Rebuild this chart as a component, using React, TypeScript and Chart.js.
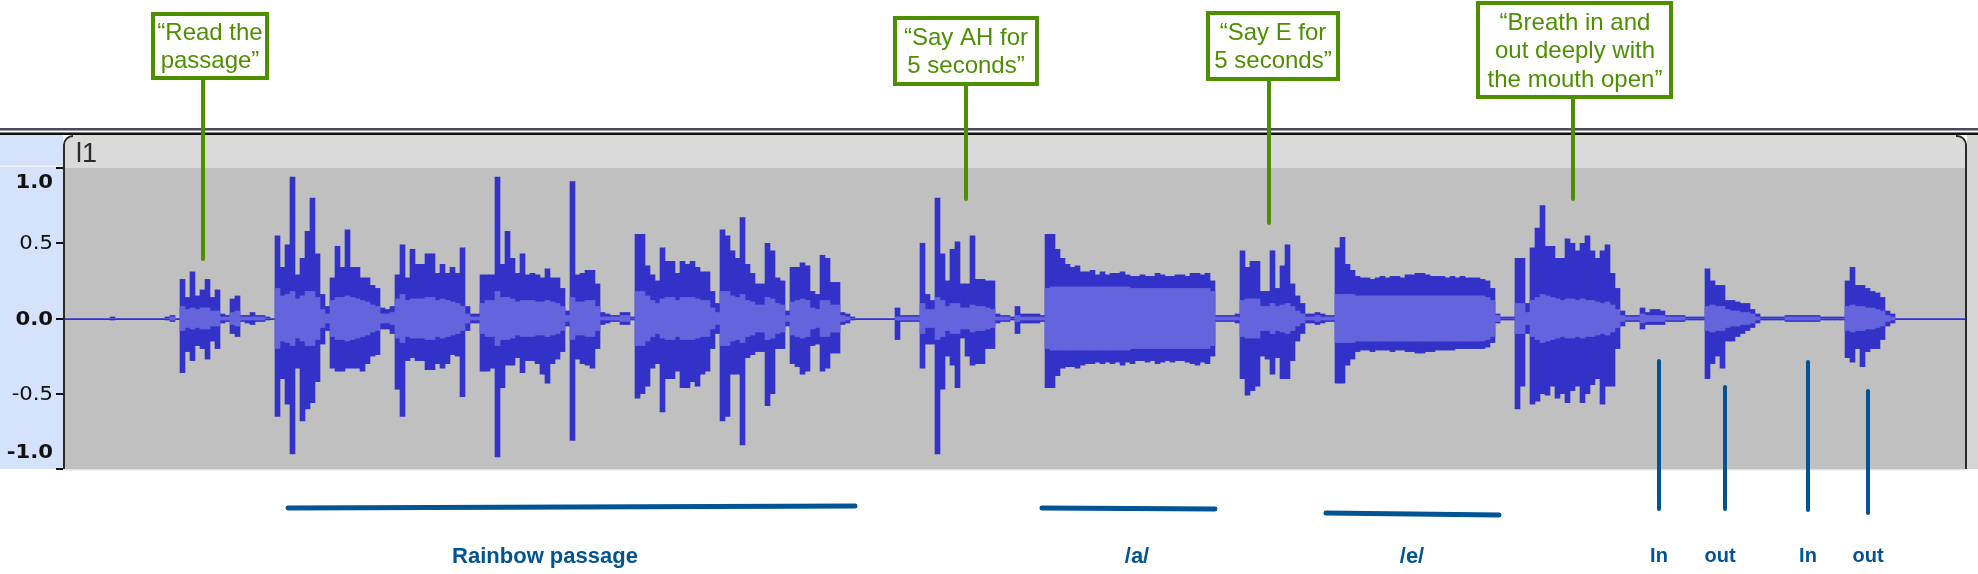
import React, { useEffect, useRef } from "react";
import { Chart, registerables } from "chart.js";

Chart.register(...registerables);

// ---------- DATA (amplitude in percent of full scale, one value per 5-px frame bin) ----------
const peakTop = [
  0,0,0,0,0,0,0,0,0,1,
  0,0,0,0,0,0,0,0,0,0,
  1,2,0,26,14,31,15,19,26,14,
  19,3,2,13,15,2,2,4,2,2,
  1,0,55,34,49,94,29,40,58,80,
  43,16,8,27,48,34,59,34,34,27,
  27,22,20,7,6,8,29,49,27,46,
  36,36,43,43,30,36,30,34,30,47,
  8,3,3,29,29,29,94,36,58,40,
  30,43,29,30,29,27,33,27,27,20,
  5,91,29,30,32,32,23,4,3,2,
  2,4,4,1,56,56,35,29,25,47,
  38,38,30,38,36,38,34,31,31,18,
  10,59,55,45,40,67,36,30,23,23,
  50,45,27,25,5,34,34,37,35,18,
  16,42,40,24,24,4,3,1,0,0,
  0,0,0,0,0,0,7,2,2,2,
  2,50,16,12,80,43,25,46,51,23,
  23,55,26,26,25,25,3,2,2,1,
  8,3,3,3,3,2,56,56,46,40,
  36,34,35,31,31,32,29,31,29,30,
  30,31,29,28,28,29,28,28,30,29,
  28,28,29,29,28,30,30,29,30,25,
  2,2,2,2,3,45,34,38,38,18,
  18,45,20,35,49,23,15,10,3,3,
  4,3,2,2,47,54,36,32,28,27,
  27,26,27,28,27,28,28,27,29,29,
  30,30,29,28,28,28,27,28,27,28,
  27,27,27,26,25,20,3,1,1,1,
  40,40,10,47,60,75,48,48,40,40,
  53,50,45,50,55,45,40,45,49,30,
  20,5,2,2,2,7,4,6,6,5,
  2,2,2,2,1,1,1,1,33,25,
  22,22,12,12,11,10,10,6,3,1,
  1,1,1,1,2,2,2,2,2,2,
  2,1,1,1,1,1,25,34,22,22,
  20,18,17,14,5,3,0,0,0,0,
  0,0,0,0,0,0,0,0,0,0,
];

const peakBottom = [
  0,0,0,0,0,0,0,0,0,-1,
  0,0,0,0,0,0,0,0,0,0,
  -1,-2,0,-36,-22,-28,-18,-20,-27,-15,
  -20,-3,-2,-10,-12,-2,-3,-4,-2,-2,
  -1,0,-65,-40,-57,-90,-33,-68,-60,-56,
  -42,-17,-8,-33,-35,-35,-33,-33,-33,-35,
  -30,-25,-24,-7,-7,-10,-47,-65,-28,-26,
  -28,-28,-34,-34,-30,-33,-30,-24,-25,-52,
  -8,-3,-3,-35,-35,-33,-92,-46,-31,-31,
  -26,-36,-28,-28,-30,-37,-43,-30,-27,-22,
  -5,-81,-27,-30,-31,-33,-20,-4,-3,-2,
  -2,-4,-4,-1,-53,-50,-45,-33,-30,-62,
  -40,-40,-35,-46,-46,-42,-45,-37,-35,-20,
  -10,-68,-65,-37,-37,-84,-26,-24,-22,-22,
  -58,-50,-20,-20,-5,-30,-32,-37,-35,-18,
  -17,-35,-33,-23,-23,-4,-3,-1,0,0,
  0,0,0,0,0,0,-14,-2,-2,-2,
  -2,-33,-17,-17,-90,-47,-25,-31,-46,-13,
  -25,-31,-30,-30,-20,-20,-3,-2,-2,-1,
  -10,-3,-3,-3,-3,-2,-46,-46,-38,-33,
  -32,-32,-33,-31,-30,-30,-29,-30,-29,-30,
  -29,-31,-29,-30,-28,-28,-29,-28,-30,-29,
  -28,-29,-28,-28,-29,-30,-31,-29,-30,-25,
  -2,-2,-2,-2,-3,-40,-51,-48,-45,-25,
  -27,-37,-26,-40,-40,-28,-15,-10,-3,-3,
  -4,-3,-2,-2,-43,-43,-31,-27,-22,-21,
  -21,-22,-21,-21,-21,-22,-21,-21,-22,-22,
  -23,-23,-22,-22,-21,-21,-21,-21,-20,-20,
  -20,-20,-20,-20,-19,-16,-3,-1,-1,-1,
  -60,-45,-10,-57,-55,-50,-51,-45,-53,-50,
  -56,-48,-45,-56,-50,-44,-40,-57,-45,-45,
  -20,-5,-2,-2,-2,-7,-4,-4,-4,-4,
  -2,-2,-2,-2,-1,-1,-1,-1,-40,-30,
  -25,-33,-15,-15,-12,-10,-8,-6,-3,-1,
  -1,-1,-1,-1,-2,-2,-2,-2,-2,-2,
  -2,-1,-1,-1,-1,-1,-26,-29,-20,-32,
  -22,-20,-20,-14,-5,-3,0,0,0,0,
  0,0,0,0,0,0,0,0,0,0,
];

const rmsLevel = [
  0,0,0,0,0,0,0,0,0,0,
  0,0,0,0,0,0,0,0,0,0,
  0,1,0,8,6,7,6,7,7,5,
  5,1,1,4,5,1,1,1,1,1,
  0,0,20,15,16,18,13,15,18,18,
  14,6,3,12,14,14,15,14,13,12,
  11,9,8,3,3,4,13,16,12,13,
  13,13,14,14,12,13,12,11,10,8,
  3,1,1,10,12,12,18,14,14,13,
  11,12,12,12,11,11,12,11,10,8,
  2,14,11,11,12,12,8,1,1,1,
  1,2,2,0,18,18,15,12,10,13,
  14,14,12,14,14,14,13,12,12,7,
  4,18,18,15,14,16,12,11,9,9,
  14,13,10,9,2,11,12,13,12,7,
  6,12,12,9,9,2,1,0,0,0,
  0,0,0,0,0,0,1,1,1,1,
  1,10,6,6,14,12,8,10,10,7,
  7,9,8,8,7,6,1,1,1,0,
  2,1,1,1,1,1,20,21,21,21,
  21,21,21,21,21,21,21,21,21,21,
  21,21,21,20,20,20,20,20,20,20,
  20,20,20,20,20,20,20,20,20,18,
  1,1,1,1,1,12,13,13,13,8,
  8,10,8,9,10,8,5,3,1,1,
  2,1,1,1,16,16,16,16,15,15,
  15,15,15,15,15,15,15,15,15,15,
  15,15,15,15,15,15,15,15,15,15,
  15,15,15,15,14,12,2,0,0,0,
  10,10,4,12,14,16,15,14,13,12,
  13,13,12,13,12,12,11,10,11,9,
  6,2,1,1,1,3,2,2,2,2,
  1,1,1,1,0,0,0,0,8,9,
  8,8,6,5,5,4,4,3,1,0,
  0,0,0,0,1,1,1,1,1,1,
  1,0,0,0,0,0,8,9,8,8,
  7,7,6,5,2,1,0,0,0,0,
  0,0,0,0,0,0,0,0,0,0,
];

const frames = peakTop.map((_, i) => String(i));

const yTickValues = [100, 50, 0, -50, -100];
const yTickLabels = ["1.0", "0.5", "0.0", "-0.5", "-1.0"];
const yTickBold = [true, false, true, false, true];
const trackName = "l1";

const promptTexts = [
  ["\u201CRead the", "passage\u201D"],
  ["\u201CSay AH for", "5 seconds\u201D"],
  ["\u201CSay E for", "5 seconds\u201D"],
  ["\u201CBreath in and", "out deeply with", "the mouth open\u201D"],
];
const segmentLabels = ["Rainbow passage", "/a/", "/e/", "In", "out", "In", "out"];

// ---------- LAYOUT / STYLE ----------
const W = 1978;
const H = 574;
const GREEN = "#4e8f00";
const BLUE = "#005493";
const FONT = "'Liberation Sans', Arial, Helvetica, sans-serif";

const promptLayout = [
  { box: [151, 12, 118, 68], cx: 210, baselines: [40, 68], stem: [203, 80, 259] },
  { box: [893, 16, 146, 70], cx: 966, baselines: [45, 73], stem: [966, 86, 199] },
  { box: [1206, 11, 134, 70], cx: 1273, baselines: [40, 68], stem: [1269, 81, 223] },
  { box: [1476, 1, 197, 98], cx: 1575, baselines: [30, 58, 87], stem: [1573, 99, 199] },
];

const spanLayout = [
  [288, 508, 855, 506],
  [1042, 508, 1215, 509],
  [1326, 513, 1499, 515],
];
const breathLayout = [
  [1659, 361, 509],
  [1725, 387, 509],
  [1808, 362, 510],
  [1868, 391, 513],
];
const labelLayout = [
  { x: 545, y: 563, size: 22 },
  { x: 1137, y: 563, size: 22 },
  { x: 1412, y: 563, size: 22 },
  { x: 1659, y: 562, size: 20 },
  { x: 1720, y: 562, size: 20 },
  { x: 1808, y: 562, size: 20 },
  { x: 1868, y: 562, size: 20 },
];

const framePlugin = {
  id: "audacityFrame",
  beforeDraw(chart: any) {
    const { ctx, chartArea: a } = chart;
    ctx.save();
    ctx.fillStyle = "#ffffff";
    ctx.fillRect(0, 0, W, H);
    // top double rule
    ctx.fillStyle = "#4a4a5c";
    ctx.fillRect(0, 128, W, 2.5);
    ctx.fillStyle = "#111111";
    ctx.fillRect(0, 132.5, W, 2.5);
    // left vertical ruler panel
    ctx.fillStyle = "#d5e2fb";
    ctx.fillRect(0, 135, a.left - 2, a.bottom - 135);
    ctx.fillStyle = "#eef2fb";
    ctx.fillRect(0, 165.5, a.left - 2, 1.5);
    // right strip
    ctx.fillStyle = "#d6d6d6";
    ctx.fillRect(a.right + 2, 135, W - a.right - 2, a.bottom - 135);
    // header bar
    ctx.fillStyle = "#dadada";
    ctx.beginPath();
    ctx.moveTo(a.left, a.top);
    ctx.lineTo(a.left, 145);
    ctx.arcTo(a.left, 135, a.left + 10, 135, 10);
    ctx.lineTo(a.right - 10, 135);
    ctx.arcTo(a.right, 135, a.right, 145, 10);
    ctx.lineTo(a.right, a.top);
    ctx.closePath();
    ctx.fill();
    // plot background
    ctx.fillStyle = "#c0c0c0";
    ctx.fillRect(a.left, a.top, a.right - a.left, a.bottom - a.top);
    ctx.fillStyle = "#e2e2e2";
    ctx.fillRect(a.left, a.bottom, a.right - a.left, 1.5);
    // outline
    ctx.strokeStyle = "#2a2a2a";
    ctx.lineWidth = 2;
    ctx.beginPath();
    ctx.moveTo(a.left - 1, a.bottom);
    ctx.lineTo(a.left - 1, 145);
    ctx.arcTo(a.left - 1, 136, a.left + 9, 136, 9);
    ctx.moveTo(a.right - 9, 136);
    ctx.arcTo(a.right + 1, 136, a.right + 1, 146, 9);
    ctx.lineTo(a.right + 1, a.bottom);
    ctx.stroke();
    // track name
    ctx.fillStyle = "#2b2b2b";
    ctx.font = `27px ${FONT}`;
    ctx.textAlign = "left";
    ctx.textBaseline = "alphabetic";
    ctx.fillText(trackName, 76, 162);
    ctx.restore();
  },
  afterDraw(chart: any) {
    const { ctx, chartArea: a, scales } = chart;
    const y = scales.y;
    ctx.save();
    // y ruler ticks and labels
    yTickValues.forEach((v, i) => {
      const py = y.getPixelForValue(v);
      ctx.fillStyle = "#111";
      ctx.fillRect(a.left - 9, Math.round(py) - 1, 7, 2);
      let ly = py + 1;
      if (i === 0) ly = py + 15;
      if (i === yTickValues.length - 1) ly = py - 16;
      ctx.save();
      ctx.translate(53, ly);
      ctx.scale(1.06, 1);
      ctx.font = `${yTickBold[i] ? "bold " : ""}20px 'DejaVu Sans', ${FONT}`;
      ctx.textAlign = "right";
      ctx.textBaseline = "middle";
      ctx.fillStyle = "#111";
      ctx.fillText(yTickLabels[i], 0, 0);
      ctx.restore();
    });

    // green prompt stems + boxes
    ctx.lineCap = "round";
    promptLayout.forEach((p, i) => {
      ctx.strokeStyle = GREEN;
      ctx.lineWidth = 4;
      ctx.beginPath();
      ctx.moveTo(p.stem[0], p.stem[1]);
      ctx.lineTo(p.stem[0], p.stem[2]);
      ctx.stroke();
      const [bx, by, bw, bh] = p.box;
      ctx.fillStyle = "#ffffff";
      ctx.fillRect(bx + 2, by + 2, bw - 4, bh - 4);
      ctx.lineWidth = 4;
      ctx.strokeRect(bx + 2, by + 2, bw - 4, bh - 4);
      ctx.fillStyle = GREEN;
      ctx.font = `24px ${FONT}`;
      ctx.textAlign = "center";
      ctx.textBaseline = "alphabetic";
      promptTexts[i].forEach((t, j) => ctx.fillText(t, p.cx, p.baselines[j]));
    });

    // blue segment markers
    ctx.strokeStyle = BLUE;
    ctx.lineWidth = 5;
    spanLayout.forEach(([x1, y1, x2, y2]) => {
      ctx.beginPath();
      ctx.moveTo(x1, y1);
      ctx.lineTo(x2, y2);
      ctx.stroke();
    });
    ctx.lineWidth = 4;
    breathLayout.forEach(([x, y1, y2]) => {
      ctx.beginPath();
      ctx.moveTo(x, y1);
      ctx.lineTo(x, y2);
      ctx.stroke();
    });
    ctx.fillStyle = BLUE;
    ctx.textAlign = "center";
    ctx.textBaseline = "alphabetic";
    segmentLabels.forEach((t, i) => {
      const l = labelLayout[i];
      ctx.font = `bold ${l.size}px ${FONT}`;
      ctx.fillText(t, l.x, l.y);
    });
    ctx.restore();
  },
};

export default function App() {
  const ref = useRef<HTMLCanvasElement | null>(null);
  useEffect(() => {
    if (!ref.current) return;
    const chart = new Chart(ref.current, {
      type: "bar",
      data: {
        labels: frames,
        datasets: [
          {
            label: "RMS",
            data: rmsLevel.map((v) => [-v, v]) as any,
            backgroundColor: "#6464dc",
            borderWidth: 0,
            grouped: false,
            barPercentage: 1,
            categoryPercentage: 1,
            order: 0,
          },
          {
            label: "Peak",
            data: peakTop.map((t, i) => [peakBottom[i], t]) as any,
            backgroundColor: "#3232c8",
            borderWidth: 0,
            grouped: false,
            barPercentage: 1,
            categoryPercentage: 1,
            order: 1,
          },
        ],
      },
      options: {
        animation: false,
        responsive: false,
        maintainAspectRatio: false,
        devicePixelRatio: 1,
        events: [],
        layout: { padding: { left: 65, right: 13, top: 168, bottom: 105 } },
        plugins: { legend: { display: false }, tooltip: { enabled: false } },
        scales: {
          x: { display: false },
          y: {
            min: -100,
            max: 100,
            ticks: { display: false, stepSize: 50 },
            border: { display: false },
            grid: {
              drawTicks: false,
              lineWidth: 2,
              color: (c: any) => (c.tick && c.tick.value === 0 ? "#3232c8" : "rgba(0,0,0,0)"),
            },
            afterFit: (s: any) => {
              s.width = 0;
            },
          },
        },
      },
      plugins: [framePlugin],
    });
    return () => chart.destroy();
  }, []);
  return (
    <div style={{ position: "absolute", left: 0, top: 0, width: W, height: H }}>
      <canvas ref={ref} width={W} height={H} style={{ display: "block", width: W, height: H }} />
    </div>
  );
}
